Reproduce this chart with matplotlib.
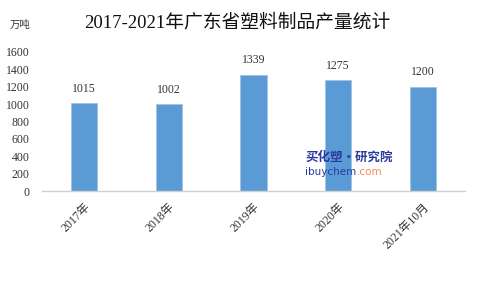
import matplotlib
matplotlib.use("Agg")
import matplotlib.pyplot as plt

categories = ["2017年", "2018年", "2019年", "2020年", "2021年10月"]
values = [1015, 1002, 1339, 1275, 1200]
yticks = [0, 200, 400, 600, 800, 1000, 1200, 1400, 1600]

plt.rcParams['font.family'] = ['Liberation Serif', 'Noto Sans CJK SC', 'DejaVu Sans']

fig = plt.figure(figsize=(4.8, 2.88), dpi=100)
ax = fig.add_axes([42/480, 1-191/288, 423/480, (191-52)/288])

x = list(range(len(categories)))
bars = ax.bar(x, values, width=0.31, color='#5b9bd5', edgecolor='#9dc3e6', linewidth=0.6)
ax.set_xlim(-0.5, len(categories)-0.5)
ax.set_ylim(0, 1600)
ax.set_yticks(yticks)
ax.set_yticklabels([str(t) for t in yticks], fontsize=8.5, color='#333333')
ax.tick_params(axis='y', length=0, pad=9)
ax.set_xticks(x)
ax.set_xticklabels(categories, rotation=45, ha='right', rotation_mode='anchor', fontsize=8.5, color='#333333')
ax.tick_params(axis='x', length=0, pad=7)
for s in ['top', 'right', 'left']:
    ax.spines[s].set_visible(False)
ax.spines['bottom'].set_color('#d0d0d0')
ax.spines['bottom'].set_linewidth(1.0)

for xi, v in zip(x, values):
    ax.text(xi, v + 95, str(v), ha='center', va='bottom', fontsize=8.5, color='#333333')

fig.text(0.495, 1-22/288, "2017-2021年广东省塑料制品产量统计", ha='center', va='center', fontsize=13.5, color='#111111')
fig.text(20/480, 1-25/288, "万吨", ha='center', va='center', fontsize=7.5, color='#333333')

fig.text(349/480, 1-157/288, "买化塑·研究院", ha='center', va='center', fontsize=9, fontweight='bold', style='italic', color='#2b3a9e', family=['Noto Sans CJK SC', 'DejaVu Sans'])
t1 = fig.text(305/480, 1-172/288, "ibuychem", ha='left', va='center', fontsize=7.5, color='#2b3a9e', family=['DejaVu Sans'])
fig.canvas.draw()
bb = t1.get_window_extent(renderer=fig.canvas.get_renderer())
x_end = bb.x1 / fig.bbox.width + 1/480
fig.text(x_end, 1-172/288, ".com", ha='left', va='center', fontsize=7.5, color='#f08a5d', family=['DejaVu Sans'])

fig.savefig("out.png", dpi=100)
